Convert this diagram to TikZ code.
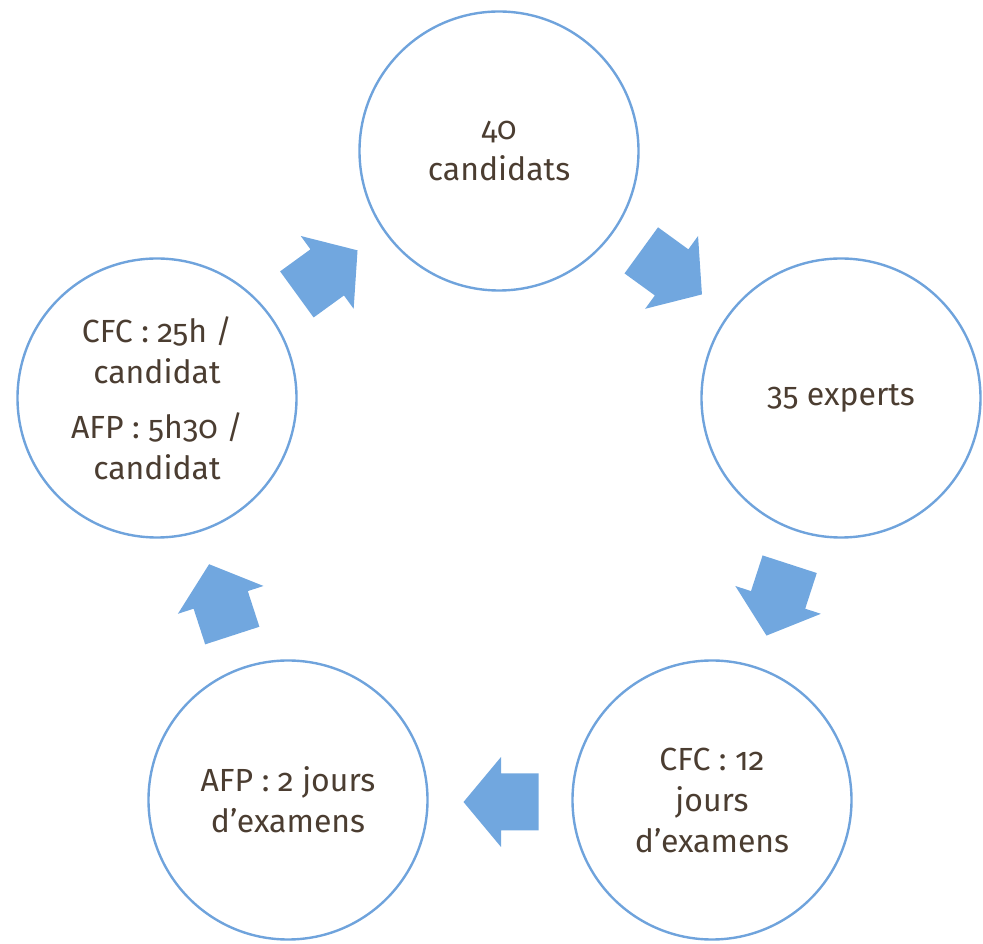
\documentclass[tikz,border=0pt]{standalone}
\usepackage{fontspec}
\setmainfont{Fira Sans}[Numbers=OldStyle]
\definecolor{circ}{HTML}{6FA3DC}
\definecolor{arr}{HTML}{71A7DF}
\definecolor{txt}{HTML}{4B3D31}
\begin{document}
\begin{tikzpicture}[x=1pt,y=1pt,
  stage/.style={circle, draw=circ, line width=2.4pt, minimum size=279pt, inner sep=0pt,
    align=center, text=txt, font=\fontsize{32}{41}\selectfont},
  barrow/.pic={\fill[arr] (-37.5,-28.5) -- (0,-28.5) -- (0,-45) -- (37.5,0) -- (0,45) -- (0,28.5) -- (-37.5,28.5) -- cycle;}]
\useasboundingbox (0,0) rectangle (983,943);
\node[stage] (top) at (499,792) {40\\candidats};
\node[stage] (right) at (841,545) {35 experts};
\node[stage] (br) at (712,143) {CFC : 12\\jours\\d’examens};
\node[stage] (bl) at (288,143) {AFP : 2 jours\\d’examens};
\node[stage] (left) at (157,545) {CFC : 25h /\\candidat\\[14pt]AFP : 5h30 /\\candidat};
\pic[rotate=-36] at (671.6,670.6) {barrow};
\pic[rotate=-108] at (778.1,343.1) {barrow};
\pic[rotate=180] at (501,141) {barrow};
\pic[rotate=108] at (220.7,343.1) {barrow};
\pic[rotate=36] at (327.2,670.6) {barrow};
\end{tikzpicture}
\end{document}
